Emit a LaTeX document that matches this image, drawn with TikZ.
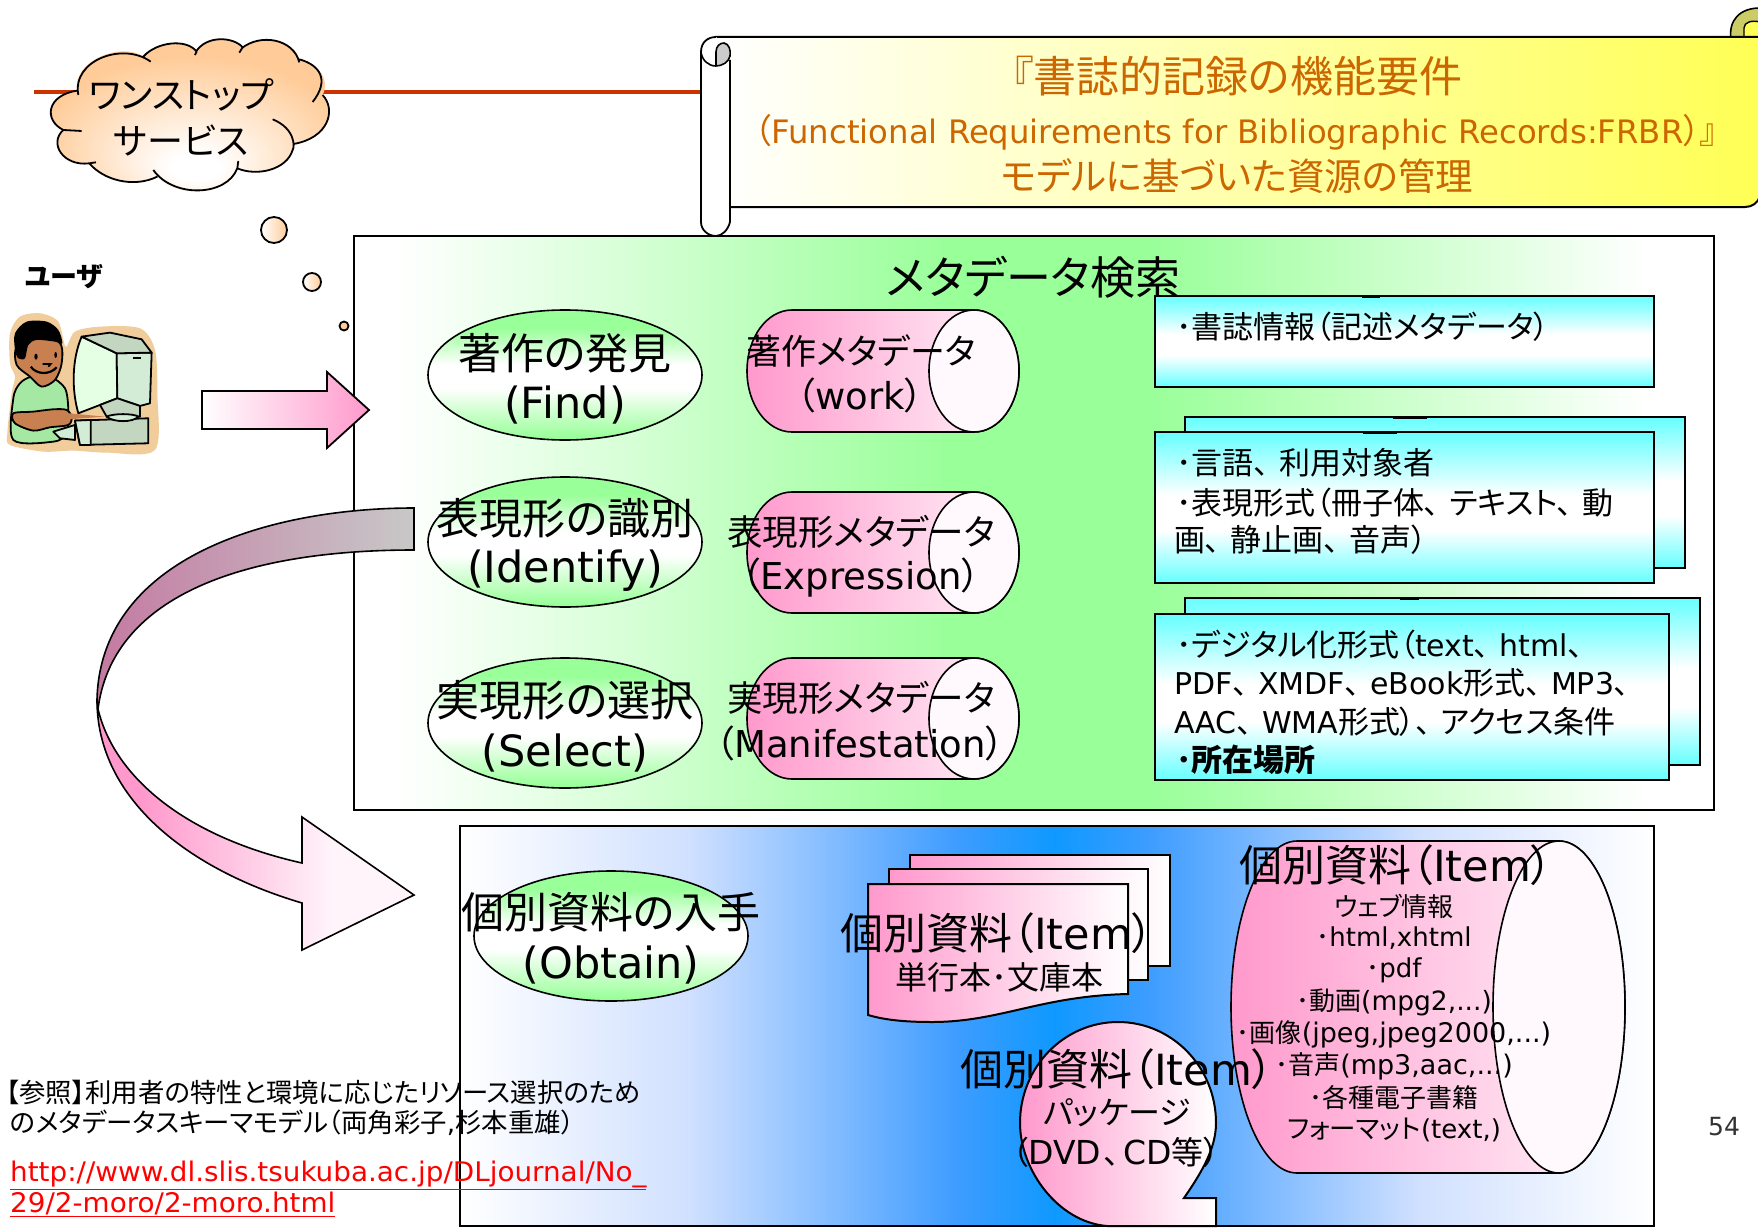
\documentclass[tikz,border=0pt]{standalone}
\usepackage{fontspec}
\setmainfont[RawFeature=+palt]{Noto Sans CJK JP}
\newfontfamily\Lat{DejaVu Sans}
\newcommand\fs[1]{\fontsize{#1pt}{#1pt}\selectfont}
\newcommand\tk{、\kern10pt}
\definecolor{pinkc}{HTML}{FF99CC}
\definecolor{pinkw}{HTML}{FFF4FA}
\definecolor{capw}{HTML}{FFF8FC}
\definecolor{greenc}{HTML}{99FF99}
\definecolor{greenl}{HTML}{D8FFD8}
\definecolor{greenm}{HTML}{B8FFB8}
\definecolor{cyanc}{HTML}{66FFFF}
\definecolor{bluec}{HTML}{0F99FF}
\definecolor{bluem}{HTML}{3D9CFF}
\definecolor{bluel}{HTML}{D0E0FF}
\definecolor{yelc}{HTML}{FFFF55}
\definecolor{peachc}{HTML}{FFCC99}
\definecolor{orangec}{HTML}{CC6600}
\definecolor{redl}{HTML}{CC3300}
\definecolor{halo}{HTML}{F0CD9B}
\definecolor{skin}{HTML}{C98050}
\definecolor{shirt}{HTML}{A4E8A4}
\definecolor{mscreen}{HTML}{E4FFE4}
\definecolor{mside}{HTML}{D2ECD6}
\definecolor{mtop}{HTML}{C2D6C0}
\definecolor{oliv}{HTML}{CCCC66}
\definecolor{duskpink}{HTML}{C47AA2}
\definecolor{greyb}{HTML}{C8C8C8}
\pgfdeclarehorizontalshading{greensh}{100bp}{color(0bp)=(white);color(26.5bp)=(white);color(34.8bp)=(greenl);color(40.7bp)=(greenm);color(46.9bp)=(greenc);color(54.3bp)=(greenc);color(72.6bp)=(white);color(100bp)=(white)}
\pgfdeclarehorizontalshading{bluesh}{100bp}{color(0bp)=(white);color(25bp)=(white);color(34.6bp)=(bluel);color(45.9bp)=(bluem);color(49.9bp)=(bluec);color(53.8bp)=(bluem);color(65.1bp)=(bluel);color(75bp)=(white);color(100bp)=(white)}
\pgfdeclareradialshading{cloudsh}{\pgfpoint{1bp}{-17bp}}{color(0bp)=(white);color(4bp)=(white);color(26bp)=(peachc);color(50bp)=(peachc)}
\pgfdeclareverticalshading{cyansh}{100bp}{color(0bp)=(cyanc);color(25bp)=(cyanc);color(42.5bp)=(white);color(54bp)=(white);color(75bp)=(cyanc);color(100bp)=(cyanc)}
\pgfdeclareverticalshading{ellsh}{100bp}{color(0bp)=(greenc);color(26bp)=(greenc);color(45bp)=(white);color(54bp)=(white);color(68bp)=(greenc);color(100bp)=(greenc)}
\pgfdeclarehorizontalshading{swoopsh}{100bp}{color(0bp)=(pinkc);color(32bp)=(pinkc);color(62bp)=(pinkw);color(100bp)=(pinkw)}
\tikzset{
  lbl/.style={inner sep=0pt,anchor=center,align=center},
  lft/.style={inner sep=0pt,anchor=west,align=left},
  pinkgrad/.style={draw=black,line width=1.6pt,left color=pinkc,right color=pinkw},
  ellgrad/.style={draw=black,line width=1.6pt,shading=ellsh},
  cybox/.style={draw=black,line width=2pt,shading=cyansh},
  art/.style={draw=black,line width=1.8pt,line join=round},
}
% horizontal cylinder: x0,x1,y0,y1,rx
\newcommand\hcyl[5]{%
  \pgfmathsetmacro\ca{#1+#5}\pgfmathsetmacro\cb{#2-#5}%
  \pgfmathsetmacro\cmid{(#3+#4)/2}\pgfmathsetmacro\ck{.5523*#5}\pgfmathsetmacro\cl{.5523*(#4-#3)/2}%
  \path[pinkgrad] (\ca,#3) .. controls (\ca-\ck,#3) and (#1,\cmid-\cl) .. (#1,\cmid)
    .. controls (#1,\cmid+\cl) and (\ca-\ck,#4) .. (\ca,#4) -- (\cb,#4)
    .. controls (\cb+\ck,#4) and (#2,\cmid+\cl) .. (#2,\cmid)
    .. controls (#2,\cmid-\cl) and (\cb+\ck,#3) .. (\cb,#3) -- cycle;
  \path[draw=black,line width=1.6pt,fill=capw] (\cb,#3)
    .. controls (\cb+\ck,#3) and (#2,\cmid-\cl) .. (#2,\cmid)
    .. controls (#2,\cmid+\cl) and (\cb+\ck,#4) .. (\cb,#4)
    .. controls (\cb-\ck,#4) and (#2-2*#5,\cmid+\cl) .. (#2-2*#5,\cmid)
    .. controls (#2-2*#5,\cmid-\cl) and (\cb-\ck,#3) .. (\cb,#3) -- cycle;
}
\begin{document}
\begin{tikzpicture}[x=1pt,y=-1pt]
\useasboundingbox (0,0) rectangle (1758,1228);
\fill[white] (0,0) rectangle (1758,1228);
% red rule
\draw[redl,line width=4pt] (34,92) -- (705,92);
% cloud
\begin{scope}[x=.3333pt,y=-.3333pt]
\path[draw=none,shading=cloudsh]
 (232,272) .. controls (215,180) and (370,125) .. (430,170)
 .. controls (470,125) and (560,115) .. (588,155)
 .. controls (620,105) and (700,110) .. (725,145)
 .. controls (780,100) and (880,115) .. (898,178)
 .. controls (960,195) and (990,240) .. (968,285)
 .. controls (1010,330) and (985,415) .. (880,432)
 .. controls (885,490) and (790,540) .. (712,505)
 .. controls (680,590) and (520,595) .. (472,530)
 .. controls (400,565) and (310,540) .. (268,490)
 .. controls (190,500) and (145,430) .. (190,390)
 .. controls (130,360) and (140,285) .. (232,272) -- cycle;
\draw[black,line width=1.8pt,line join=round]
 (235,285) .. controls (215,180) and (370,125) .. (452,185)
 (430,170) .. controls (470,125) and (560,115) .. (590,155) -- (585,165)
 (588,155) .. controls (620,105) and (700,110) .. (728,142) -- (718,158)
 (725,145) .. controls (780,100) and (880,115) .. (898,187)
 (898,178) .. controls (960,195) and (990,240) .. (938,306)
 (968,285) .. controls (1010,330) and (985,415) .. (880,432)
 (818,358) .. controls (885,385) and (885,440) .. (878,450)
 .. controls (860,510) and (770,530) .. (712,505) -- (715,483)
 (712,505) .. controls (680,590) and (520,595) .. (460,510)
 (472,530) .. controls (400,565) and (310,540) .. (268,490) -- (288,487)
 (268,490) .. controls (190,500) and (145,430) .. (190,390) -- (245,393)
 (190,390) .. controls (130,360) and (140,285) .. (232,272);
\end{scope}
\node[lbl] (cloudA) at (181,95) {\fs{36}ワンストップ};
\node[lbl] (cloudB) at (181,140) {\fs{36}サービス};
% thought bubbles
\path[draw=black,line width=1.8pt,left color=white,right color=peachc] (274,230) circle [radius=13];
\path[draw=black,line width=1.8pt,left color=white,right color=peachc] (312,282) circle [radius=9];
\path[draw=black,line width=1.8pt,fill=peachc] (344,326) circle [radius=4.5];
\node[lbl] (userlab) at (64,277) {\fs{27}\bfseries ユーザ};
% clip-art user
\begin{scope}[x=.3333pt,y=-.3333pt]
\fill[halo] plot[smooth cycle] coordinates {(30,1000) (60,950) (120,940) (175,965) (197,1040) (225,995) (300,980) (420,985) (465,1050) (472,1180) (465,1350) (320,1358) (220,1352) (130,1355) (30,1335) (22,1300) (35,1180) (45,1130) (30,1090)};
\draw[art,fill=shirt] plot[smooth cycle] coordinates {(40,1195) (60,1150) (95,1130) (150,1130) (195,1165) (205,1230) (200,1300) (160,1325) (40,1320)};
\draw[art,fill=skin] plot[smooth cycle] coordinates {(50,1040) (110,1000) (180,1030) (185,1090) (165,1140) (125,1160) (90,1130) (50,1095)};
\fill[black] plot[smooth cycle] coordinates {(45,1000) (80,965) (140,965) (175,990) (187,1030) (165,1025) (110,1020) (85,1035) (75,1075) (55,1075) (45,1050)};
\fill[black] (108,1070) ellipse [x radius=5,y radius=9] (167,1065) ellipse [x radius=4,y radius=9];
\draw[black,line width=2.2pt] (92,1100) .. controls (110,1125) and (150,1125) .. (170,1102);
\draw[black,line width=1.8pt] (128,1092) -- (152,1092) -- (145,1100);
\draw[art,fill=mside] (160,1295) -- (225,1275) -- (225,1320) -- (180,1315) -- cycle;
\draw[art,fill=mscreen] (245,1010) -- (350,1060) -- (352,1195) -- (235,1240) .. controls (215,1170) and (215,1080) .. (245,1010) -- cycle;
\draw[art,fill=mside] (350,1060) -- (455,1058) -- (450,1210) -- (420,1218) -- (352,1195) -- cycle;
\draw[art,fill=mtop] (245,1010) -- (330,998) -- (425,1018) -- (455,1058) -- (350,1060) -- cycle;
\draw[black,line width=1.4pt] (400,1074) -- (424,1074);
\draw[art,fill=mtop] (352,1195) -- (420,1218) -- (420,1250) -- (320,1250) -- (300,1215) -- cycle;
\draw[art,fill=mtop] (225,1262) -- (445,1255) -- (445,1330) -- (240,1335) -- cycle;
\draw[art,fill=mside] (225,1262) -- (272,1260) -- (272,1335) -- (240,1335) -- cycle;
\draw[art,fill=mside] (320,1250) .. controls (340,1240) and (400,1240) .. (415,1250) .. controls (400,1268) and (340,1268) .. (320,1250) -- cycle;
\draw[art,fill=skin] plot[smooth cycle] coordinates {(40,1240) (100,1235) (160,1228) (200,1230) (215,1252) (205,1275) (150,1282) (100,1292) (45,1270)};
\fill[skin] (205,1240) -- (315,1250) -- (205,1258) -- cycle;
\end{scope}
% scroll
\path[draw=black,line width=1.6pt,fill=oliv] (1731,40) .. controls (1728,20) and (1740,8) .. (1760,8) -- (1760,40) -- cycle;
\path[draw=black,line width=1.4pt,fill=yelc] (1744,40) -- (1744,28) .. controls (1744,22) and (1752,20) .. (1760,22) -- (1760,40) -- cycle;
\path[draw=black,line width=2pt,left color=white,right color=yelc] (716,37) -- (1760,37) -- (1760,196) .. controls (1758,203) and (1752,207) .. (1745,207) -- (716,207) -- cycle;
\fill[white] (701,52) .. controls (701,42) and (708,37) .. (716,37) -- (730,50) -- (730,222) .. controls (728,230) and (722,236) .. (716,236) .. controls (708,236) and (701,230) .. (701,222) -- cycle;
\draw[black,line width=1.8pt] (730,60) -- (730,222) .. controls (728,230) and (722,236) .. (716,236) .. controls (708,236) and (701,230) .. (701,222) -- (701,52) .. controls (701,42) and (708,37) .. (716,37);
\path[draw=black,line width=1.6pt,fill=black!20] (716,66) -- (716,52) .. controls (716,46) and (720,43) .. (724,43) .. controls (729,44) and (731,50) .. (730,56) .. controls (729,62) and (722,66) .. (716,66) -- cycle;
\draw[black,line width=1.6pt] (701,52) .. controls (702,60) and (708,66) .. (716,66);
\node[lbl,text=orangec] (scrollA) at (1237,76) {\fs{43}『書誌的記録の機能要件};
\node[lbl,text=orangec] (scrollB) at (1236,132) {\fs{34}（{\Lat\fs{32.3}Functional Requirements for Bibliographic Records:FRBR}）』};
\node[lbl,text=orangec] (scrollC) at (1237,176) {\fs{37.5}モデルに基づいた資源の管理};
% main panel
\path[draw=black,line width=2pt,shading=greensh] (354,236) rectangle (1714,810);
\node[lbl] (mainT) at (1033,277) {\fs{45}メタデータ検索};
% ellipses
\path[ellgrad] (565,375) ellipse [x radius=137,y radius=65];
\path[ellgrad] (565,542) ellipse [x radius=137,y radius=65];
\path[ellgrad] (565,723) ellipse [x radius=137,y radius=65];
\node[lbl] (findA) at (565,353) {\fs{43}著作の発見};
\node[lbl] (findB) at (565,405) {\fs{43}\Lat (Find)};
\node[lbl] (idA) at (565,518) {\fs{43}表現形の識別};
\node[lbl] (idB) at (565,571) {\fs{43}\Lat (Identify)};
\node[lbl] (selA) at (565,700) {\fs{43}実現形の選択};
\node[lbl] (selB) at (565,753) {\fs{43}\Lat (Select)};
% cylinders
\hcyl{747}{1019}{310}{432}{45}
\hcyl{747}{1019}{492}{613}{45}
\hcyl{747}{1019}{658}{779}{45}
\node[lbl] (workA) at (861,351) {\fs{35}著作メタデータ};
\node[lbl] (workB) at (860,395) {\fs{37}（{\Lat work}）};
\node[lbl] (expA) at (861,532) {\fs{35.5}表現形メタデータ};
\node[lbl] (expB) at (861,578) {\fs{37}（{\Lat Expression}）};
\node[lbl] (manA) at (861,698) {\fs{35.5}実現形メタデータ};
\node[lbl] (manB) at (860,743) {\fs{37}（{\Lat Manifestation}）};
% cyan boxes
\path[cybox] (1155,296) rectangle (1654,387);
\path[cybox] (1185,417) rectangle (1685,568);
\path[cybox] (1155,432) rectangle (1654,583);
\path[cybox] (1185,598) rectangle (1700,765);
\path[cybox] (1155,614) rectangle (1669,780);
\draw[black,line width=3pt] (1362,296) -- (1380,296) (1393,417) -- (1427,417) (1363,432) -- (1397,432) (1400,598) -- (1419,598);
\node[lft] (b1) at (1176,327) {\fs{31}･書誌情報（記述メタデータ）};
\node[lft] (b2a) at (1176,463) {\fs{31}･言語\tk 利用対象者};
\node[lft] (b2b) at (1176,503) {\fs{31}･表現形式（冊子体\tk テキスト\tk 動};
\node[lft] (b2c) at (1174,540) {\fs{31}画\tk 静止画\tk 音声）};
\node[lft] (b3a) at (1176,645) {\fs{31}･デジタル化形式（{\Lat\fs{30}text}\tk{\Lat\fs{30}html}、};
\node[lft] (b3b) at (1174,683) {\fs{31}{\Lat\fs{30}PDF}\tk{\Lat\fs{30}XMDF}\tk{\Lat\fs{30}eBook}形式\tk{\Lat\fs{30}MP3}、};
\node[lft] (b3c) at (1174,722) {\fs{31}{\Lat\fs{30}AAC}\tk{\Lat\fs{30}WMA}形式）\tk アクセス条件};
\node[lft] (b3d) at (1176,760) {\fs{31}\bfseries ･所在場所};
% lower panel
\path[draw=black,line width=2pt,shading=bluesh] (460,826) rectangle (1654,1226);
\path[ellgrad] (611,936) ellipse [x radius=137,y radius=65];
\node[lbl] (obtA) at (611,912) {\fs{43}個別資料の入手};
\node[lbl] (obtB) at (611,965) {\fs{43}\Lat (Obtain)};
% document stack
\path[pinkgrad,line width=2pt,right color=white] (910,855) rectangle (1170,966);
\path[pinkgrad,line width=2pt,right color=white] (889,869) rectangle (1148,980);
\path[pinkgrad,line width=2pt,right color=white] (868,884) -- (1128,884) -- (1128,994) .. controls (1040,996) and (1000,1022) .. (932,1022) .. controls (905,1022) and (885,1020) .. (868,1015) -- cycle;
\node[lbl] (docA) at (997,933) {\fs{43}個別資料（{\Lat\fs{43}Item}）};
\node[lbl] (docB) at (999,977) {\fs{32}単行本･文庫本};
% big cylinder
\hcyl{1231}{1625}{841}{1173}{66}
\node[lbl] (cy0) at (1396,865) {\fs{43}個別資料（{\Lat\fs{43}Item}）};
\node[lbl] (cy1) at (1394,906) {\fs{26}ウェブ情報};
\node[lbl] (cy2) at (1394,938) {\fs{26}･{\Lat\fs{26}html,xhtml}};
\node[lbl] (cy3) at (1394,970) {\fs{26}･{\Lat\fs{26}pdf}};
\node[lbl] (cy4) at (1394,1002) {\fs{26}･動画{\Lat\fs{26.5}(mpg2,...)}};
\node[lbl] (cy5) at (1394,1034) {\fs{26}･画像{\Lat\fs{27}(jpeg,jpeg2000,...)}};
\node[lbl] (cy6) at (1394,1066) {\fs{26}･音声{\Lat\fs{27}(mp3,aac,...)}};
\node[lbl] (cy7) at (1394,1098) {\fs{26}･各種電子書籍};
\node[lbl] (cy8) at (1394,1130) {\fs{26.5}フォーマット{\Lat\fs{26}(text,)}};
% callout
\path[pinkgrad,right color=white,line width=2pt] (1184,1198) .. controls (1202,1172) and (1216,1148) .. (1216,1123)
  .. controls (1216,1067) and (1172,1022) .. (1118,1022)
  .. controls (1064,1022) and (1020,1067) .. (1020,1123)
  .. controls (1020,1170) and (1058,1222) .. (1107,1226) -- (1216,1226) -- (1216,1198) -- cycle;
\node[lbl] (calA) at (1117,1069) {\fs{43}個別資料（{\Lat\fs{43}Item}）};
\node[lbl] (calB) at (1117,1113) {\fs{32}パッケージ};
\node[lbl] (calC) at (1116,1152) {\fs{32}（{\Lat\fs{33}DVD}\kern3pt、\kern3pt{\Lat\fs{33}CD}等）};
% pink block arrow
\path[draw=black,line width=1.8pt,shading angle=300,left color=white,right color=pinkc] (202,391) -- (327,391) -- (327,372) -- (369,410) -- (327,448) -- (327,429) -- (202,429) -- cycle;
% curved arrow
\path[draw=black,line width=1.6pt,shading=swoopsh] (97,700) .. controls (97,800) and (190,870) .. (302,903) -- (302,950) -- (414,895) -- (302,817) -- (302,863) .. controls (190,838) and (115,780) .. (98,709) -- cycle;
\path[draw=black,line width=1.6pt,left color=duskpink,right color=greyb] (414,508) .. controls (265,508) and (100,560) .. (97,700) -- (98,709) .. controls (112,600) and (235,550) .. (414,550) -- cycle;
% reference text
\node[lft] (refA) at (6,1092) {\fs{26.4}【参照】利用者の特性と環境に応じたリソース選択のため};
\node[lft] (refB) at (10,1123) {\fs{26.4}のメタデータスキーマモデル（両角彩子{\Lat ,}杉本重雄）};
\node[lft,text=red] (urlA) at (10,1175) {\fs{27}\Lat \scalebox{1.03}[1]{\underline{http://www.dl.slis.tsukuba.ac.jp/DLjournal/No\_}}};
\node[lft,text=red] (urlB) at (10,1204) {\fs{27}\Lat \scalebox{1.03}[1]{\underline{29/2-moro/2-moro.html}}};
\node[lbl,text=black!80] (pageno) at (1724,1127) {\fs{25}\Lat 54};
\end{tikzpicture}
\end{document}
